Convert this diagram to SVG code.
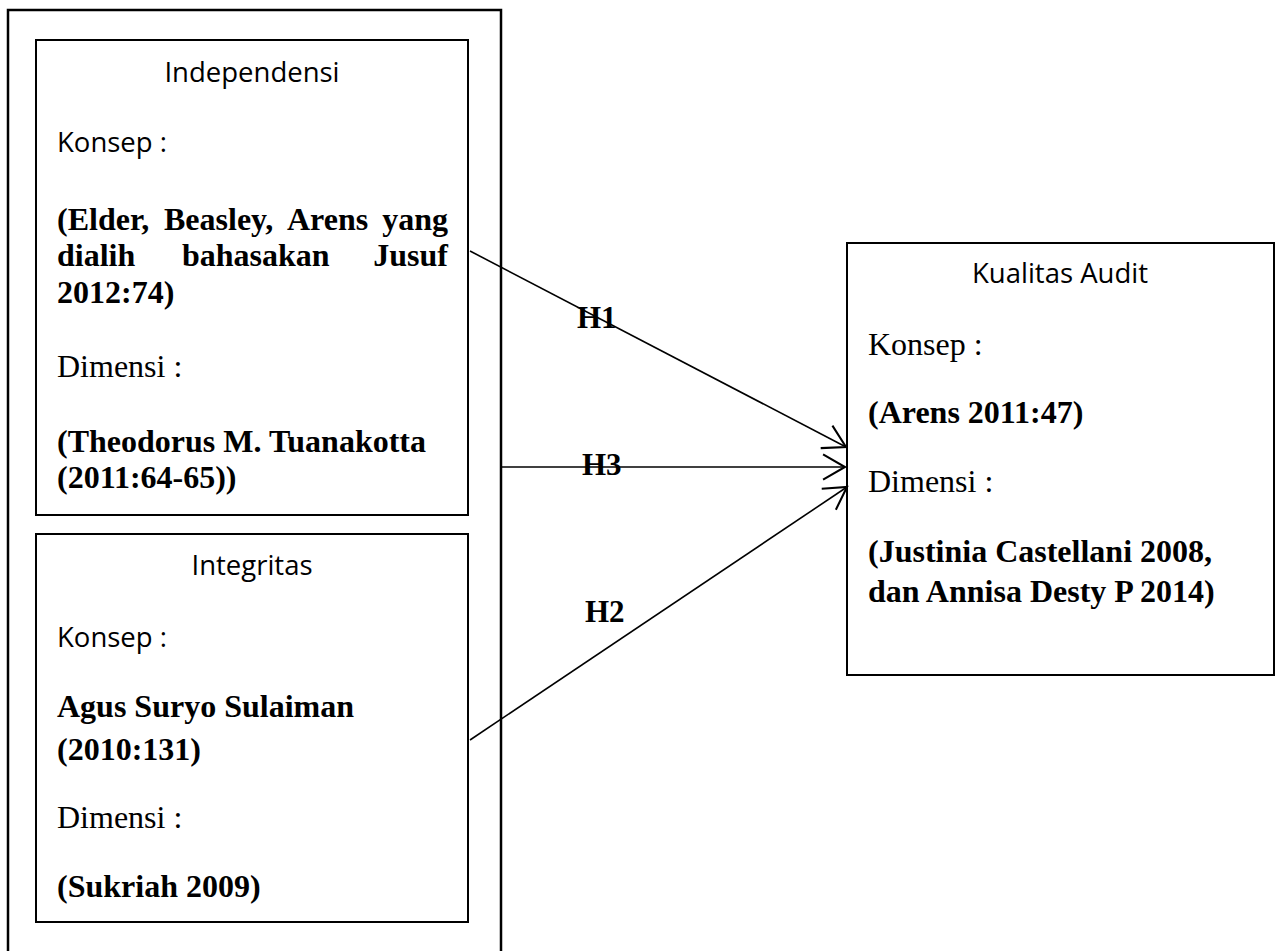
<svg xmlns="http://www.w3.org/2000/svg" width="1280" height="951" viewBox="0 0 1280 951">
<style>
.box{fill:none;stroke:#000;stroke-width:2}
.outer{fill:none;stroke:#000;stroke-width:2.5}
.title{font-family:"Open Sans","Liberation Sans",sans-serif;font-size:27.5px;fill:#000}
.tr{font-family:"Liberation Serif","Times New Roman",serif;font-size:32px;fill:#000}
.tb{font-family:"Liberation Serif","Times New Roman",serif;font-size:32px;font-weight:bold;fill:#000}
.hl{font-family:"Liberation Serif","Times New Roman",serif;font-size:31px;font-weight:bold;fill:#000}
.conn{stroke:#000;stroke-width:1.6;fill:none}
</style>
<defs>
<marker id="arr" markerUnits="userSpaceOnUse" markerWidth="30" markerHeight="30" viewBox="-22 -13 26 26" refX="0" refY="0" orient="auto">
<path d="M-19,-11 L0,0 L-19,11" fill="none" stroke="#000" stroke-width="1.8"/>
</marker>
</defs>
<rect width="1280" height="951" fill="#fff"/>
<g id="outer">
<rect class="outer" x="8" y="10" width="493" height="960"/>
</g>
<g id="independensi">
<rect class="box" x="36" y="40" width="432" height="475"/>
<text class="title" x="252" y="82" text-anchor="middle">Independensi</text>
<text class="title" x="57" y="152">Konsep :</text>
<text class="tb" x="57" y="230">(Elder,</text>
<text class="tb" x="164" y="230">Beasley,</text>
<text class="tb" x="287" y="230">Arens</text>
<text class="tb" x="448" y="230" text-anchor="end">yang</text>
<text class="tb" x="57" y="266">dialih</text>
<text class="tb" x="182" y="266">bahasakan</text>
<text class="tb" x="448" y="266" text-anchor="end">Jusuf</text>
<text class="tb" x="57" y="303">2012:74)</text>
<text class="tr" x="57" y="377">Dimensi :</text>
<text class="tb" x="57" y="452">(Theodorus M. Tuanakotta</text>
<text class="tb" x="57" y="488">(2011:64-65))</text>
</g>
<g id="integritas">
<rect class="box" x="36" y="534" width="432" height="388"/>
<text class="title" x="252" y="575" text-anchor="middle">Integritas</text>
<text class="title" x="57" y="647">Konsep :</text>
<text class="tb" x="57" y="717">Agus Suryo Sulaiman</text>
<text class="tb" x="57" y="760">(2010:131)</text>
<text class="tr" x="57" y="828">Dimensi :</text>
<text class="tb" x="57" y="897">(Sukriah 2009)</text>
</g>
<g id="kualitas">
<rect class="box" x="847" y="243" width="427" height="432"/>
<text class="title" x="1060" y="283" text-anchor="middle">Kualitas Audit</text>
<text class="tr" x="868" y="355">Konsep :</text>
<text class="tb" x="868" y="423">(Arens 2011:47)</text>
<text class="tr" x="868" y="492">Dimensi :</text>
<text class="tb" x="868" y="562">(Justinia Castellani 2008,</text>
<text class="tb" x="868" y="602">dan Annisa Desty P 2014)</text>
</g>
<g id="connectors">
<line class="conn" x1="470" y1="251" x2="846" y2="447" marker-end="url(#arr)"/>
<line class="conn" x1="502" y1="467" x2="845" y2="467" marker-end="url(#arr)"/>
<line class="conn" x1="470" y1="740" x2="847" y2="487" marker-end="url(#arr)"/>
<text class="hl" x="577" y="328">H1</text>
<text class="hl" x="582" y="475">H3</text>
<text class="hl" x="585" y="622">H2</text>
</g>
</svg>
